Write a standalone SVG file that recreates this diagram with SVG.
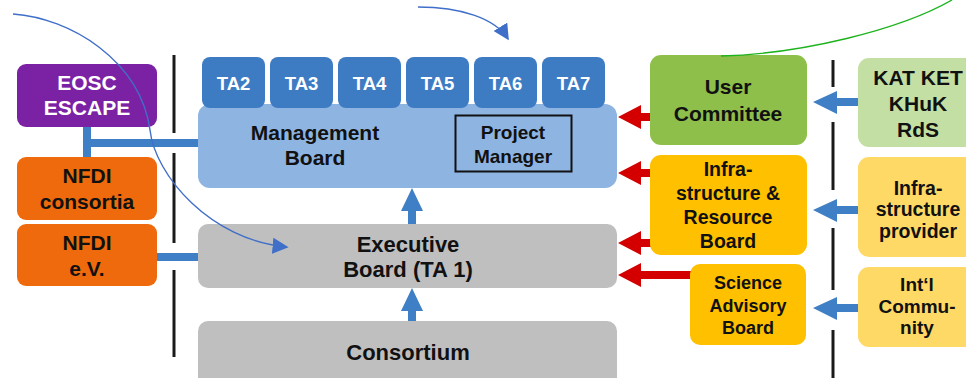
<svg xmlns="http://www.w3.org/2000/svg" width="966" height="378" viewBox="0 0 966 378">
<defs>
<style>
text{font-family:"Liberation Sans",Arial,sans-serif;font-weight:bold;text-anchor:middle;fill:#111}
.w{fill:#fff}
.vline{stroke:#1a1a1a;stroke-width:3}
.bl{fill:#3F7FC6}
.rd{fill:#D40000}
.curve{fill:none;stroke:#3F6FC8;stroke-width:1.4}
</style>
<marker id="ah" viewBox="0 0 10 10" refX="9" refY="5" markerWidth="16" markerHeight="16" markerUnits="userSpaceOnUse" orient="auto"><path d="M0,0 L10,5 L0,10 z" fill="#3F6FC8"/></marker>
</defs>
<rect width="966" height="378" fill="#fff"/>

<g id="separators">
<line class="vline" x1="174" y1="55" x2="174" y2="133"/>
<line class="vline" x1="174" y1="153" x2="174" y2="243"/>
<line class="vline" x1="174" y1="270" x2="174" y2="357"/>
<line class="vline" x1="833" y1="60" x2="833" y2="87"/>
<line class="vline" x1="833" y1="122" x2="833" y2="190"/>
<line class="vline" x1="833" y1="228" x2="833" y2="290"/>
<line class="vline" x1="833" y1="330" x2="833" y2="378"/>
</g>

<g id="connectors">
<rect class="bl" x="83" y="125" width="8" height="34"/>
<rect class="bl" x="83" y="139" width="118" height="8"/>
<rect class="bl" x="155" y="253" width="46" height="8"/>
<polygon class="bl" points="408,224 408,211 401,211 412,188 423,211 416,211 416,224"/>
<polygon class="bl" points="408,322 408,311 401,311 412,288 423,311 416,311 416,322"/>
<polygon class="rd" points="652,113 641,113 641,105 618,117 641,129 641,121 652,121"/>
<polygon class="rd" points="652,169 641,169 641,161 618,173 641,185 641,177 652,177"/>
<polygon class="rd" points="652,239 641,239 641,231 618,243 641,255 641,247 652,247"/>
<polygon class="rd" points="692,271 641,271 641,263 618,275 641,287 641,279 692,279"/>
<polygon class="bl" points="860,98 837,98 837,91 813,102 837,114 837,106 860,106"/>
<polygon class="bl" points="860,206 837,206 837,199 813,210 837,222 837,214 860,214"/>
<polygon class="bl" points="860,304 837,304 837,297 813,308 837,320 837,312 860,312"/>
</g>

<g id="eosc">
<rect x="17" y="64" width="140" height="63" rx="9" fill="#7B22A4"/>
<text class="w" x="87" y="90" font-size="21">EOSC</text>
<text class="w" x="87" y="115" font-size="21">ESCAPE</text>
</g>
<g id="nfdi-consortia">
<rect x="17" y="157" width="140" height="63" rx="9" fill="#EF6A0C"/>
<text x="87" y="183" font-size="21">NFDI</text>
<text x="87" y="209" font-size="21">consortia</text>
</g>
<g id="nfdi-ev">
<rect x="17" y="224" width="140" height="62" rx="9" fill="#EF6A0C"/>
<text x="87" y="250" font-size="21">NFDI</text>
<text x="87" y="276" font-size="21">e.V.</text>
</g>

<g id="management-board">
<rect x="198" y="104" width="419" height="84" rx="12" fill="#8EB4E2"/>
<text x="315" y="140" font-size="21">Management</text>
<text x="315" y="165" font-size="21">Board</text>
</g>
<g id="project-manager">
<rect x="455.5" y="115.5" width="116" height="56" fill="none" stroke="#111" stroke-width="2"/>
<text x="513" y="139" font-size="19">Project</text>
<text x="513" y="163" font-size="19">Manager</text>
</g>
<g id="ta2"><rect x="202" y="57" width="63" height="51" rx="8" fill="#3D7CC3"/><text class="w" x="233.5" y="90" font-size="18.5">TA2</text></g>
<g id="ta3"><rect x="270" y="57" width="63" height="51" rx="8" fill="#3D7CC3"/><text class="w" x="301.5" y="90" font-size="18.5">TA3</text></g>
<g id="ta4"><rect x="338" y="57" width="63" height="51" rx="8" fill="#3D7CC3"/><text class="w" x="369.5" y="90" font-size="18.5">TA4</text></g>
<g id="ta5"><rect x="406" y="57" width="63" height="51" rx="8" fill="#3D7CC3"/><text class="w" x="437.5" y="90" font-size="18.5">TA5</text></g>
<g id="ta6"><rect x="474" y="57" width="63" height="51" rx="8" fill="#3D7CC3"/><text class="w" x="505.5" y="90" font-size="18.5">TA6</text></g>
<g id="ta7"><rect x="542" y="57" width="63" height="51" rx="8" fill="#3D7CC3"/><text class="w" x="573.5" y="90" font-size="18.5">TA7</text></g>

<g id="executive-board">
<rect x="198" y="224" width="419" height="64" rx="10" fill="#BFBFBF"/>
<text x="408" y="252" font-size="22">Executive</text>
<text x="408" y="277" font-size="22">Board (TA 1)</text>
</g>
<g id="consortium">
<rect x="198" y="321" width="419" height="70" rx="10" fill="#BFBFBF"/>
<text x="408" y="360" font-size="22">Consortium</text>
</g>

<g id="user-committee">
<rect x="650" y="55" width="157" height="90" rx="11" fill="#8FBF4B"/>
<text x="728" y="94" font-size="21">User</text>
<text x="728" y="121" font-size="21">Committee</text>
</g>
<g id="infra-resource-board">
<rect x="650" y="155" width="157" height="100" rx="11" fill="#FFC000"/>
<text x="728" y="176" font-size="19.5">Infra-</text>
<text x="728" y="200" font-size="19.5">structure &amp;</text>
<text x="728" y="224" font-size="19.5">Resource</text>
<text x="728" y="248" font-size="19.5">Board</text>
</g>
<g id="science-advisory-board">
<rect x="690" y="264" width="116" height="81" rx="10" fill="#FFC000"/>
<text x="748" y="289" font-size="18">Science</text>
<text x="748" y="312" font-size="18">Advisory</text>
<text x="748" y="334" font-size="18">Board</text>
</g>

<g id="kat">
<rect x="858" y="58" width="130" height="89" rx="11" fill="#C4DFA3"/>
<text x="918" y="85" font-size="21">KAT KET</text>
<text x="918" y="111" font-size="21">KHuK</text>
<text x="918" y="137" font-size="21">RdS</text>
</g>
<g id="infra-provider">
<rect x="858" y="157" width="130" height="100" rx="11" fill="#FFD966"/>
<text x="918" y="195" font-size="19.5">Infra-</text>
<text x="918" y="216" font-size="19.5">structure</text>
<text x="918" y="238" font-size="19.5">provider</text>
</g>
<g id="intl-community">
<rect x="858" y="267" width="130" height="80" rx="11" fill="#FFD966"/>
<text x="917" y="291" font-size="19">Int‘l</text>
<text x="917" y="313" font-size="19">Commu-</text>
<text x="917" y="334" font-size="19">nity</text>
</g>

<g id="annotations">
<path class="curve" d="M13,14 C70,18 140,60 150,130 C155,175 210,240 287,247" marker-end="url(#ah)"/>
<path class="curve" d="M418,7 C460,7 495,18 508,39" marker-end="url(#ah)"/>
<path d="M721,56 C800,54 900,30 952,0" fill="none" stroke="#1DB31D" stroke-width="1.4"/>
</g>
</svg>
